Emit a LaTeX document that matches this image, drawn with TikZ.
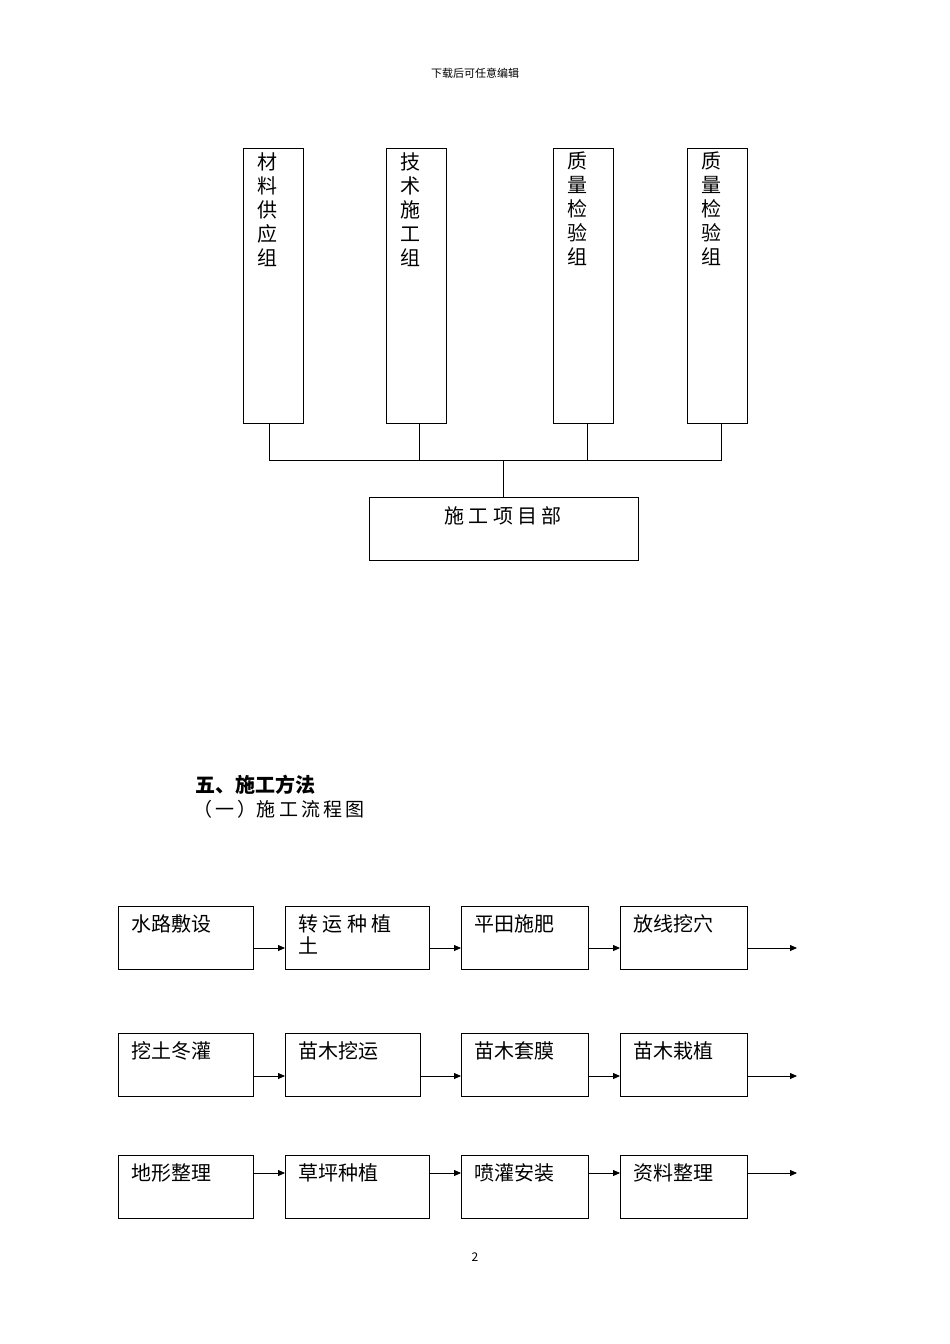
\documentclass[tikz,border=0pt]{standalone}
\usepackage{fontspec}
\setmainfont{Noto Sans CJK SC}
\usetikzlibrary{arrows.meta}
\begin{document}
\begin{tikzpicture}[x=1pt,y=-1pt,
  bx/.style={draw,line width=0.8pt},
  vt/.style={anchor=north,align=center,font=\fontsize{20}{24}\selectfont,inner sep=0pt},
  ft/.style={anchor=north west,align=left,font=\fontsize{20}{22}\selectfont,inner sep=0pt},
  ln/.style={line width=0.8pt},
  ar/.style={line width=0.8pt,-{Triangle[length=7pt,width=6pt]}}]
\useasboundingbox (0,0) rectangle (950,1344);
\node[font=\fontsize{11}{13}\selectfont] (hdr) at (475,73) {下载后可任意编辑};
% top org chart
\foreach \n/\x/\t in {a/243/材\\料\\供\\应\\组, b/386/技\\术\\施\\工\\组, c/553/质\\量\\检\\验\\组, d/687/质\\量\\检\\验\\组}{
  \draw[bx] (\x,148) rectangle +(60,275);
  \node[vt] (\n) at (\x+24,152) {\t};
}
\coordinate (at) at (269,423); \coordinate (bt) at (419,423);
\coordinate (ct) at (587,423); \coordinate (dt) at (721,423);
\draw[bx] (369,497) rectangle (638,560);
\node[font=\fontsize{20}{24}\selectfont] (pm) at (503,516) {施\ 工\ 项\ 目\ 部};
\coordinate (pt) at (503,497);
\coordinate (hub) at (503,460);
\draw[ln] (at) -- (269,460) -- (721,460) -- (dt);
\draw[ln] (bt) -- (419,460); \draw[ln] (ct) -- (587,460);
\draw[ln] (hub) -- (pt);
% headings
\node[anchor=west,font=\bfseries\fontsize{20}{24}\selectfont] (h5) at (192,785) {五、施工方法};
\node[anchor=west,font=\fontsize{19}{24}\selectfont] (h51) at (190,809) {（\,一\,）施\,工\,流\,程\,图};
% flow rows
\foreach \r/\y/\ay/\qa/\qb/\qc/\qd/\xb in {1/906/948/水路敷设/{转\ 运\ 种\ 植\\土}/平田施肥/放线挖穴/429, 2/1033/1076/挖土冬灌/苗木挖运/苗木套膜/苗木栽植/420, 3/1155/1173/地形整理/草坪种植/喷灌安装/资料整理/429}{
  \draw[bx] (118,\y) rectangle (253,\y+63);
  \draw[bx] (285,\y) rectangle (\xb,\y+63);
  \draw[bx] (461,\y) rectangle (588,\y+63);
  \draw[bx] (620,\y) rectangle (747,\y+63);
  \node[ft] (r\r a) at (131,\y+8) {\qa};
  \node[ft] (r\r b) at (298,\y+8) {\qb};
  \node[ft] (r\r c) at (474,\y+8) {\qc};
  \node[ft] (r\r d) at (633,\y+8) {\qd};
  \coordinate (e\r) at (797,\ay);
  \draw[ar] (253,\ay) -- (285,\ay);
  \draw[ar] (\xb,\ay) -- (461,\ay);
  \draw[ar] (588,\ay) -- (620,\ay);
  \draw[ar] (747,\ay) -- (e\r);
}
\node[font=\fontsize{12}{14}\selectfont] (pg) at (475,1257) {2};
\end{tikzpicture}
\end{document}
